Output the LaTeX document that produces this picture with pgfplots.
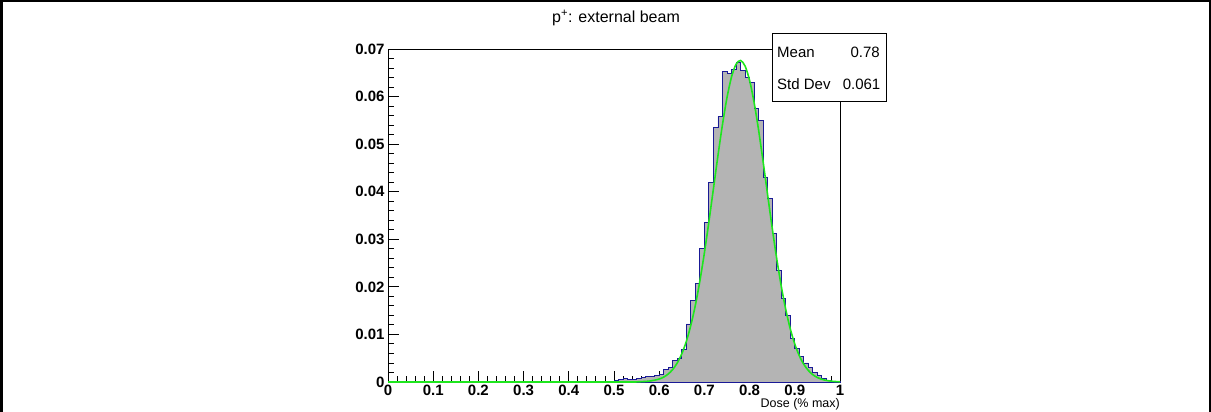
\documentclass[border=0pt]{standalone}
\usepackage{fontspec}
\setmainfont{Liberation Sans}
\usepackage{pgfplots}
\pgfplotsset{compat=1.18}
\definecolor{histgray}{RGB}{180,180,180}
\definecolor{histblue}{RGB}{25,25,150}
\definecolor{fitgreen}{RGB}{30,230,30}
\begin{document}
\begin{tikzpicture}
\path[use as bounding box] (0pt,0pt) rectangle (1211pt,412pt);
\draw[line width=2.5pt] (1.25pt,0pt) -- (1.25pt,410.75pt) -- (1209.75pt,410.75pt) -- (1209.75pt,0pt);
\begin{axis}[
  at={(388pt,30pt)}, anchor=south west,
  scale only axis, width=452pt, height=333pt,
  xmin=0, xmax=1, ymin=0, ymax=0.07,
  scaled x ticks=false, scaled y ticks=false,
  xtick={0,0.1,0.2,0.3,0.4,0.5,0.6,0.7,0.8,0.9,1},
  xticklabels={0,0.1,0.2,0.3,0.4,0.5,0.6,0.7,0.8,0.9,1},
  ytick={0,0.01,0.02,0.03,0.04,0.05,0.06,0.07},
  yticklabels={0,0.01,0.02,0.03,0.04,0.05,0.06,0.07},
  minor x tick num=4, minor y tick num=4,
  tick align=inside, tick pos=left,
  major tick length=11pt, minor tick length=5.5pt,
  tick style={black, line width=0.9pt},
  minor tick style={black, line width=0.9pt},
  axis line style={line width=0.9pt, black},
  xticklabel style={font=\bfseries\fontsize{15}{15}\selectfont, yshift=0pt, inner sep=2.5pt},
  yticklabel style={font=\bfseries\fontsize{15}{15}\selectfont},
  clip=false,
]
\addplot[const plot, fill=histgray, draw=histblue, line width=0.9pt] coordinates {
(0,0) (0.50,0.0003) (0.51,0.0005) (0.52,0.0007) (0.53,0.0005) (0.54,0.0006)
(0.55,0.0008) (0.56,0.0010) (0.57,0.0011) (0.58,0.0012) (0.59,0.0014)
(0.60,0.0016) (0.61,0.0026) (0.62,0.0031) (0.63,0.0045) (0.64,0.0050)
(0.65,0.0068) (0.66,0.0122) (0.67,0.0172) (0.68,0.0208) (0.69,0.0280)
(0.70,0.0335) (0.71,0.0420) (0.72,0.0536) (0.73,0.0558) (0.74,0.0653)
(0.75,0.0648) (0.76,0.0657) (0.77,0.0672) (0.78,0.0655) (0.79,0.0640)
(0.80,0.0629) (0.81,0.0575) (0.82,0.0550) (0.83,0.0431) (0.84,0.0385)
(0.85,0.0313) (0.86,0.0235) (0.87,0.0176) (0.88,0.0139) (0.89,0.0092)
(0.90,0.0071) (0.91,0.0054) (0.92,0.0040) (0.93,0.0030) (0.94,0.0020)
(0.95,0.0013) (0.96,0.0008) (0.97,0.0004) (0.98,0.0002) (0.99,0.0001)
(1.00,0.0001)
} \closedcycle;
\addplot[fitgreen, line width=1.6pt, smooth] coordinates {
(0,0) (0.50,0.000001) (0.55,0.000032) (0.58,0.00021) (0.60,0.00063)
(0.61,0.00104) (0.62,0.00168) (0.63,0.00264) (0.64,0.00402) (0.65,0.00594)
(0.66,0.00854) (0.67,0.01192) (0.68,0.01614) (0.69,0.02125) (0.70,0.02716)
(0.71,0.03372) (0.72,0.04065) (0.73,0.04760) (0.74,0.05413) (0.75,0.05979)
(0.76,0.06413) (0.77,0.06680) (0.78,0.06759) (0.79,0.06642) (0.80,0.06338)
(0.81,0.05874) (0.82,0.05288) (0.83,0.04623) (0.84,0.03925) (0.85,0.03237)
(0.86,0.02592) (0.87,0.02016) (0.88,0.01523) (0.89,0.01117) (0.90,0.00796)
(0.91,0.00551) (0.92,0.00370) (0.93,0.00242) (0.94,0.00153) (0.95,0.00094)
(0.96,0.00056) (0.97,0.00033) (0.98,0.00018) (0.99,0.00010) (1.00,0.00005)
};
\end{axis}
\draw[fill=white, line width=0.8pt] (772pt,311pt) rectangle (886pt,379pt);
\node[anchor=west, font=\fontsize{15}{15}\selectfont, inner sep=0pt] at (777pt,359.7pt) {Mean};
\node[anchor=east, font=\fontsize{15}{15}\selectfont, inner sep=0pt] at (880pt,359.7pt) {0.78};
\node[anchor=west, font=\fontsize{15}{15}\selectfont, inner sep=0pt] at (777pt,327.7pt) {Std Dev};
\node[anchor=east, font=\fontsize{15}{15}\selectfont, inner sep=0pt] at (880.5pt,327.7pt) {0.061};
\node[font=\fontsize{16}{16}\selectfont, inner sep=0pt] at (616pt,394pt) {p\textsuperscript{+}: external beam};
\node[anchor=south east, font=\fontsize{12.5}{12.5}\selectfont, inner sep=0pt] at (840pt,2pt) {Dose (\% max)};
\end{tikzpicture}
\end{document}
